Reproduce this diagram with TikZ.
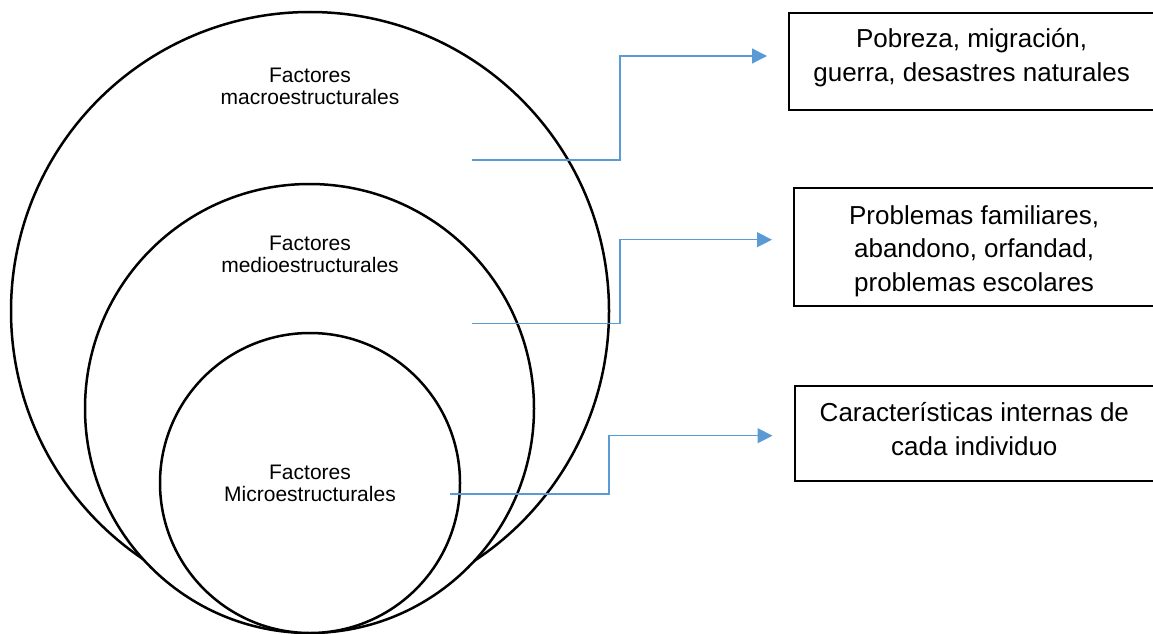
\documentclass[tikz,border=0pt]{standalone}
\usepackage{fontspec}
\setmainfont{Liberation Sans}
\usetikzlibrary{arrows.meta}
\definecolor{connblue}{RGB}{91,155,213}
\tikzset{
  ring/.style={circle, draw=black, fill=white, line width=2.5pt, inner sep=0pt},
  ctext/.style={font=\fontsize{21}{22}\selectfont, align=center, anchor=north, inner sep=0pt},
  infobox/.style={draw=black, line width=2.2pt, inner sep=0pt, anchor=north west,
                  font=\fontsize{26}{33.5}\selectfont},
  conn/.style={draw=connblue, line width=1.3pt, -{Triangle[length=15pt,width=15pt]},
               shorten >=21pt}
}
\begin{document}
\begin{tikzpicture}[x=1pt,y=-1pt]
\useasboundingbox (0,0) rectangle (1153,634);
% circles
\node[ring, minimum size=598pt] (big) at (310,311) {};
\node[ring, minimum size=449pt] (mid) at (309.5,408.5) {};
\node[ring, minimum size=300pt] (small) at (310,483) {};
% circle texts
\node[ctext] (tmacro) at (310,67) {\rule{0pt}{15pt}Factores\\macroestructurales};
\node[ctext] (tmedio) at (310,235) {\rule{0pt}{15pt}Factores\\medioestructurales};
\node[ctext] (tmicro) at (310,464) {\rule{0pt}{15pt}Factores\\Microestructurales};
% boxes
\node[infobox] (b1) at (788,11.7) {\parbox[c][97pt][t]{365pt}{\centering\rule{0pt}{35pt}Pobreza, migración,\\guerra, desastres naturales}};
\node[infobox] (b2) at (793,186.7) {\parbox[c][118.3pt][t]{360pt}{\centering\rule{0pt}{36.3pt}Problemas familiares,\\abandono, orfandad,\\problemas escolares}};
\node[infobox] (b3) at (793.5,385) {\parbox[c][95pt][t]{359.5pt}{\centering\rule{0pt}{35.7pt}Características internas de\\cada individuo}};
% connector points
\coordinate (s1) at (472,160);
\coordinate (k1) at (620,56);
\coordinate (s2) at (472,323.3);
\coordinate (k2) at (620,239.7);
\coordinate (s3) at (450,494);
\coordinate (k3) at (609,435.7);
% connectors
\draw[conn] (s1) -| (k1) -- (k1 -| b1.west);
\draw[conn] (s2) -| (k2) -- (k2 -| b2.west);
\draw[conn] (s3) -| (k3) -- (k3 -| b3.west);
\end{tikzpicture}
\end{document}
